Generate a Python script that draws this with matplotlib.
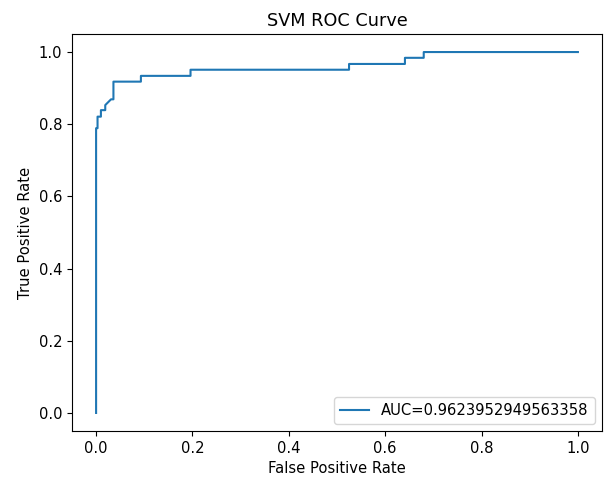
import numpy as np
import matplotlib
matplotlib.use('Agg')
import matplotlib.pyplot as plt

plt.rcParams['font.size'] = 10.6

# ROC points (step curve)
fpr = [0.0, 0.0, 0.003, 0.003, 0.010, 0.010, 0.019, 0.019, 0.031, 0.036, 0.036,
       0.093, 0.093, 0.196, 0.196, 0.525, 0.525, 0.641, 0.641, 0.680, 0.680, 1.0]
tpr = [0.0, 0.789, 0.789, 0.821, 0.821, 0.839, 0.839, 0.853, 0.869, 0.869, 0.918,
       0.918, 0.934, 0.934, 0.951, 0.951, 0.967, 0.967, 0.984, 0.984, 1.0, 1.0]
auc = 0.9623952949563358

fig = plt.figure(figsize=(6.07, 4.78), dpi=100)
ax = fig.add_axes([72/607, 47/478, 530/607, 397/478])

ax.plot(fpr, tpr, label='AUC=' + str(auc))
ax.set_title('SVM ROC Curve')
ax.set_xlabel('False Positive Rate')
ax.set_ylabel('True Positive Rate')
ax.legend(loc='lower right')

plt.savefig('out.png', dpi=100)
